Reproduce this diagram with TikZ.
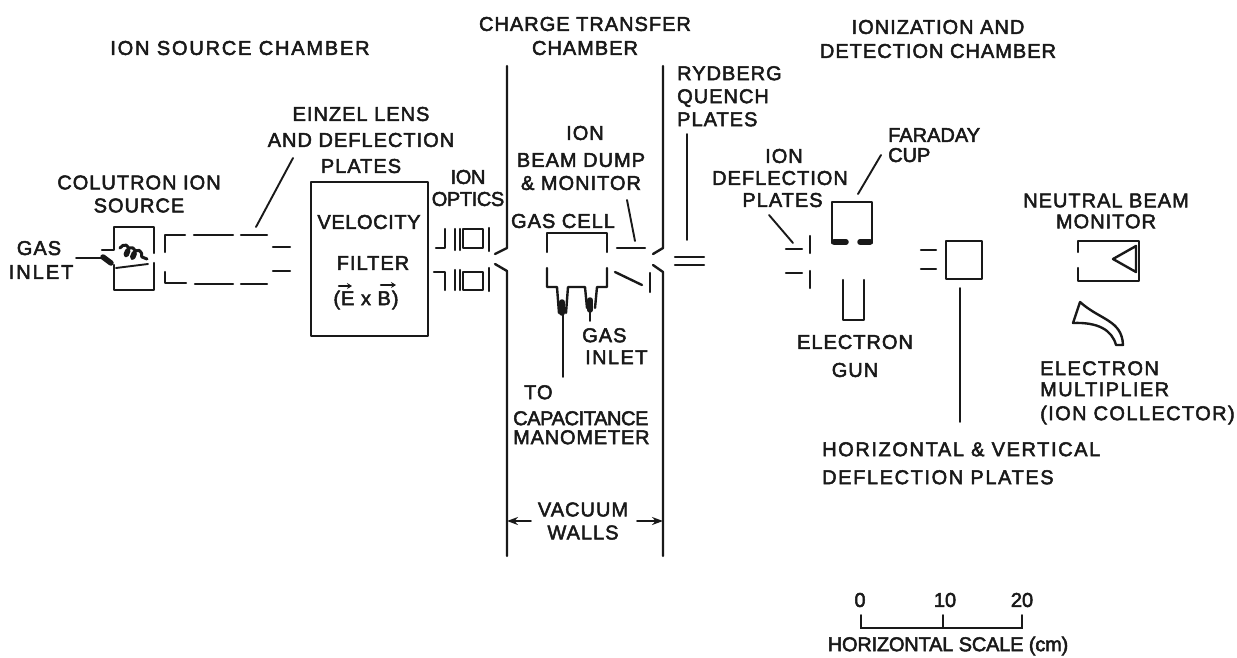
\documentclass[tikz,border=0pt]{standalone}
\usepackage{fontspec}
\setmainfont[LetterSpace=5,FakeBold=2.5]{Liberation Sans}
\usetikzlibrary{arrows.meta,decorations.pathmorphing}
\newcommand{\spc}[1]{\addfontfeature{LetterSpace=#1}}
\tikzset{
  lab/.style={inner sep=0pt,align=center,font=\fontsize{20}{25}\selectfont,text=black!90},
  labl/.style={lab,align=left},
  sp/.style={font=\fontsize{20}{25}\selectfont\spc{#1}},
  part/.style={draw=black!90,line width=2.4pt,line join=round,line cap=round},
  thin part/.style={draw=black!90,line width=1.9pt,line cap=round},
  blob/.style={draw=black!90,line width=5.5pt,line cap=round},
  dim/.style={thin part,-{Stealth[length=11pt,width=8pt]}}
}
\begin{document}
\begin{tikzpicture}[x=1pt,y=-1pt]
\useasboundingbox (0,0) rectangle (1237,657);
% ---- headings
\node[lab,sp=9] (hSource) at (240,48) {ION SOURCE CHAMBER};
\node[lab] (hCharge) at (585,36) {CHARGE TRANSFER\\[-1pt]CHAMBER};
\node[lab] (hIon) at (938,39) {IONIZATION AND\\[-1pt]DETECTION CHAMBER};
% ---- source
\node[lab] (lColu) at (139,194) {COLUTRON ION\\[-2pt]SOURCE};
\node[lab] (lGas) at (39,260) {GAS\\[-1pt]\hspace*{4pt}{\spc{10}INLET}};
\draw[part] (102,250) -- (114,250) -- (114,227) -- (154,227) -- (154,253);
\draw[part] (114,265) -- (114,290) -- (154,290) -- (154,263);
\draw[part,line width=3pt,decorate,decoration={coil,aspect=0.6,segment length=7pt,amplitude=5pt}] (120,248) -- (147,259);
\draw[thin part] (148,264) -- (116,268);
\coordinate (gasTail) at (76,258);
\coordinate (gasTip) at (101,258);
\draw[thin part] (gasTail) -- (gasTip);
\draw[blob] (103,257) -- (111,263);
% ---- einzel lens
\node[lab] (lEinzel) at (361,140) {EINZEL LENS\\[1pt]AND DEFLECTION\\[1pt]PLATES};
\coordinate (einzelFrom) at (293,158);
\coordinate (einzelEnd) at (256,227);
\draw[thin part] (einzelFrom) -- (einzelEnd);
\draw[part] (165,252) -- (165,235) -- (185,235);
\draw[part] (194,235) -- (233,235);
\draw[part] (241,235) -- (267,235);
\draw[part] (165,272) -- (165,283) -- (186,283);
\draw[part] (195,284) -- (233,284);
\draw[part] (241,284) -- (267,284);
\draw[part] (273,247) -- (290,247);
\draw[part] (273,271) -- (290,271);
% ---- filter
\node[part,rectangle,minimum width=117pt,minimum height=154pt,inner sep=0pt] (filter) at (369.5,259) {};
\node[lab,sp=3] (lVel) at (369,222) {VELOCITY};
\node[lab] (lFil) at (373,263) {FILTER};
\node[lab] (lExB) at (366,300) {(E x B)};
\draw[part,-{Stealth[length=5pt,width=6pt]}] (339,286) -- (352,286);
\draw[part,-{Stealth[length=5pt,width=6pt]}] (381,285) -- (396,285);
% ---- ion optics
\node[lab,sp=-2] (lOpt) at (468,188) {ION\\[-3pt]OPTICS};
\draw[part] (436,248) -- (445,248) -- (445,229);
\draw[part] (455,229) -- (455,250) (460,229) -- (460,250);
\draw[part] (463,229) rectangle (483,248);
\draw[part] (489,228) -- (489,251);
\draw[part] (434,272) -- (445,272) -- (445,290);
\draw[part] (455,270) -- (455,290) (460,270) -- (460,290);
\draw[part] (463,272) rectangle (483,290);
\draw[part] (489,268) -- (489,291);
% ---- vacuum walls
\coordinate (wallLT) at (507,66);
\coordinate (wallLB) at (507,556);
\coordinate (wallRT) at (663,66);
\coordinate (wallRB) at (663,556);
\draw[part] (wallLT) -- (507,248) -- (495,254);
\draw[part] (495,264) -- (507,271) -- (wallLB);
\draw[part] (wallRT) -- (663,248) -- (653,254);
\draw[part] (653,265) -- (663,272) -- (wallRB);
\node[lab] (lWalls) at (583,521) {VACUUM\\[-2pt]WALLS};
\coordinate (arrL) at (531,521);
\coordinate (arrR) at (637,521);
\draw[dim] (arrL) -- (arrL -| wallLB);
\draw[dim] (arrR) -- (arrR -| wallRB);
% ---- gas cell
\node[lab] (lDump) at (581,158) {\hspace*{8pt}ION\\[2pt]BEAM DUMP\\[-2pt]\& MONITOR};
\node[lab] (lCell) at (563,221) {GAS CELL};
\draw[part] (547,252) -- (547,233) -- (607,233) -- (607,252);
\draw[part] (547,268) -- (547,287) -- (557,287) -- (559,313);
\draw[part] (607,268) -- (607,287) -- (597,287) -- (595,308);
\draw[part] (566,313) -- (568,287) -- (585,287) -- (587,308);
\draw[blob] (562,302) -- (562,313);
\draw[blob] (590,300) -- (590,310);
\coordinate (manoTop) at (563,313);
\coordinate (mano) at (563,377);
\draw[thin part] (manoTop) -- (mano);
\coordinate (gasCellTop) at (590,310);
\coordinate (gasCellEnd) at (590,321);
\draw[thin part] (gasCellTop) -- (gasCellEnd);
\node[labl,anchor=north west] (lGas2) at (582,328) {GAS\\[-3pt]\hspace*{3pt}{\spc{7}INLET}};
\node[labl,anchor=north west] (lTo) at (513,385) {\hspace*{11pt}TO\\[1pt]{\spc{-2}CAPACITANCE}\\[-6pt]{\spc{4}MANOMETER}};
\coordinate (dumpFrom) at (627,200);
\coordinate (dumpEnd) at (635,241);
\draw[thin part] (dumpFrom) -- (dumpEnd);
\draw[part] (617,248) -- (645,248);
\draw[part] (615,272) -- (642,285);
\draw[part] (650,273) -- (650,292);
% ---- Rydberg
\node[labl,anchor=north west] (lRyd) at (677,66) {RYDBERG\\[-2pt]QUENCH\\[-2pt]PLATES};
\coordinate (rydFrom) at (687,134);
\coordinate (rydEnd) at (687,240);
\draw[thin part] (rydFrom) -- (rydEnd);
\draw[part] (675,257) -- (704,257);
\draw[part] (675,265) -- (704,265);
% ---- ion deflection plates
\node[lab] (lDefl) at (780,178) {\hspace*{8pt}ION\\[-3pt]DEFLECTION\\[-3pt]\hspace*{5pt}PLATES};
\coordinate (deflFrom) at (769,215);
\coordinate (deflEnd) at (793,243);
\draw[thin part] (deflFrom) -- (deflEnd);
\draw[part] (786,249) -- (802,249);
\draw[part] (786,273) -- (802,273);
\draw[part] (810,236) -- (810,253);
\draw[part] (810,271) -- (810,288);
% ---- Faraday cup
\node[labl,anchor=north west,sp=0] (lCup) at (888,128) {FARADAY\\[-5pt]CUP};
\draw[part] (832,243) -- (832,202) -- (872,202) -- (872,243);
\draw[blob] (834,242) -- (846,242);
\draw[blob] (860,242) -- (870,242);
\coordinate (cupFrom) at (881,155);
\coordinate (cupEnd) at (858,194);
\draw[thin part] (cupFrom) -- (cupEnd);
% ---- electron gun
\draw[part] (843,280) -- (843,320) -- (864,320) -- (864,280);
\node[lab] (lGun) at (855,356) {ELECTRON\\[3pt]GUN};
% ---- H/V plates
\draw[part] (921,250) -- (936,250);
\draw[part] (921,269) -- (936,269);
\node[part,rectangle,minimum width=36pt,minimum height=38pt,inner sep=0pt] (hv) at (964,260) {};
\node[labl,anchor=north west,sp=8] (lHV) at (822,442) {HORIZONTAL \& VERTICAL\\[3pt]DEFLECTION PLATES};
\coordinate (hvFrom) at (960,288);
\coordinate (hvEnd) at (960,422);
\draw[thin part] (hvFrom) -- (hvEnd);
% ---- neutral beam monitor
\node[lab] (lNeu) at (1106,211) {NEUTRAL BEAM\\[-4pt]MONITOR};
\draw[part] (1078,252) -- (1078,241) -- (1139,241) -- (1139,281) -- (1078,281) -- (1078,268);
\draw[part] (1136,246) -- (1113,259) -- (1136,272) -- cycle;
% ---- multiplier
\draw[part] (1080,302) .. controls (1100,320) and (1122,320) .. (1123,345) -- (1116,345)
  .. controls (1112,330) and (1098,322) .. (1073,323) -- cycle;
\node[labl,anchor=north west,sp=7] (lMul) at (1040,361) {ELECTRON\\[-4pt]MULTIPLIER\\[-1pt](ION COLLECTOR)};
% ---- scale
\node[lab,sp=0] (s0) at (860,600) {0};
\node[lab,sp=0] (s10) at (945,600) {10};
\node[lab,sp=0] (s20) at (1022,600) {20};
\coordinate (sa) at (861,615);
\coordinate (sb) at (943,615);
\coordinate (sc) at (1022,615);
\draw[thin part] (sa) -- (861,628) -- (1022,628) -- (sc);
\draw[thin part] (sb) -- (943,628);
\node[lab,sp=-1] (lScale) at (948,646) {HORIZONTAL SCALE (cm)};
\end{tikzpicture}
\end{document}
